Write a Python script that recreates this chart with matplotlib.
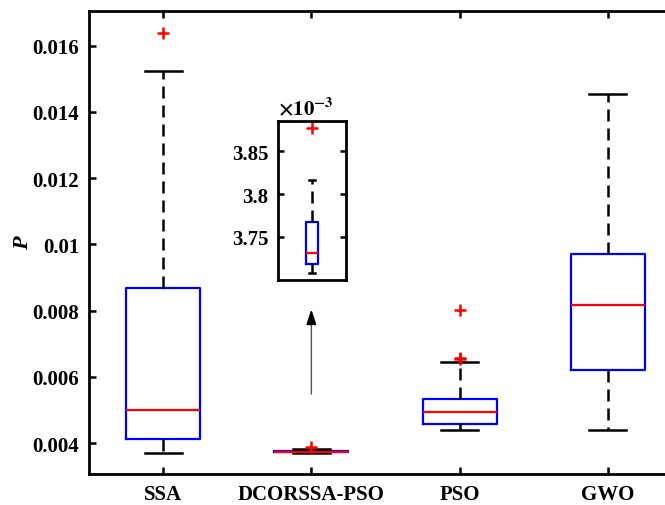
import matplotlib
matplotlib.use("Agg")
import matplotlib.pyplot as plt

plt.rcParams['font.family'] = ['Liberation Serif', 'DejaVu Serif']
plt.rcParams['font.weight'] = 'bold'
plt.rcParams['mathtext.fontset'] = 'stix'

# valores
etiquetas = ['SSA', 'DCORSSA-PSO', 'PSO', 'GWO']
q1 = [0.00412, 0.003718, 0.004574, 0.006214]
mediana = [0.005004, 0.003731, 0.004926, 0.008168]
q3 = [0.008673, 0.003767, 0.005329, 0.009708]
bigote_inf = [0.00370, 0.003708, 0.004382, 0.004393]
bigote_sup = [0.015246, 0.003817, 0.006437, 0.01454]
atipicos = [[0.016392], [0.003877], [0.008026, 0.00655, 0.00658], []]

yticks = [0.004, 0.006, 0.008, 0.01, 0.012, 0.014, 0.016]
ytick_labels = ['0.004', '0.006', '0.008', '0.01', '0.012', '0.014', '0.016']
zoom_ticks = [3.75e-3, 3.80e-3, 3.85e-3]
zoom_labels = ['3.75', '3.8', '3.85']

stats = []
for i in range(len(etiquetas)):
    stats.append(dict(label=etiquetas[i], q1=q1[i], med=mediana[i], q3=q3[i],
                      whislo=bigote_inf[i], whishi=bigote_sup[i], fliers=atipicos[i]))

estilo = dict(
    widths=0.5,
    boxprops=dict(color='blue', linewidth=1.6),
    medianprops=dict(color='red', linewidth=1.6),
    whiskerprops=dict(color='black', linewidth=1.8, linestyle=(0, (4.8, 2.8))),
    capprops=dict(color='black', linewidth=1.8),
    flierprops=dict(marker='+', markeredgecolor='red', markersize=8, markeredgewidth=1.8),
)

fig = plt.figure(figsize=(6.65, 5.06), dpi=100)
ax = fig.add_axes([89 / 665, 1 - 475 / 506, (682 - 89) / 665, (475 - 12) / 506])
ax.bxp(stats, positions=[1, 2, 3, 4], **estilo)
ax.set_xlim(0.5, 4.5)
ax.set_ylim(0.003064, 0.017048)
ax.set_yticks(yticks)
ax.set_yticklabels(ytick_labels)
ax.set_xticks([1, 2, 3, 4])
ax.set_xticklabels(etiquetas)
ax.tick_params(direction='in', length=5, width=1.8, labelsize=15, pad=7,
               top=True, right=True)
for s in ax.spines.values():
    s.set_linewidth(2)
ax.set_ylabel('P', fontsize=16, fontstyle='italic', fontweight='bold', labelpad=0)

# flecha hacia el zoom
ax.annotate('', xy=(2, 0.008026), xytext=(2, 0.00548),
            arrowprops=dict(arrowstyle='-|>,head_length=0.9,head_width=0.3',
                            color='#555555', lw=1, shrinkA=0, shrinkB=0))
ax.annotate('', xy=(2, 0.008026), xytext=(2, 0.0076),
            arrowprops=dict(arrowstyle='-|>,head_length=0.9,head_width=0.3',
                            color='black', lw=1, shrinkA=0, shrinkB=0))

# recuadro ampliado
axz = fig.add_axes([278 / 665, 1 - 280.7 / 506, 68 / 665, 159 / 506])
axz.bxp([stats[1]], positions=[2], **estilo)
axz.set_xlim(2 - 1.42, 2 + 1.42)
axz.set_ylim(3.700e-3, 3.886e-3)
axz.set_xticks([])
axz.set_yticks(zoom_ticks)
axz.set_yticklabels(zoom_labels)
axz.tick_params(direction='in', length=4, width=1.8, labelsize=15, pad=7, right=True)
for s in axz.spines.values():
    s.set_linewidth(2)
axz.text(0.0, 1.01, r'$\times10^{-3}$', transform=axz.transAxes, fontsize=15,
         ha='left', va='bottom')

fig.savefig('out.png', dpi=100)
